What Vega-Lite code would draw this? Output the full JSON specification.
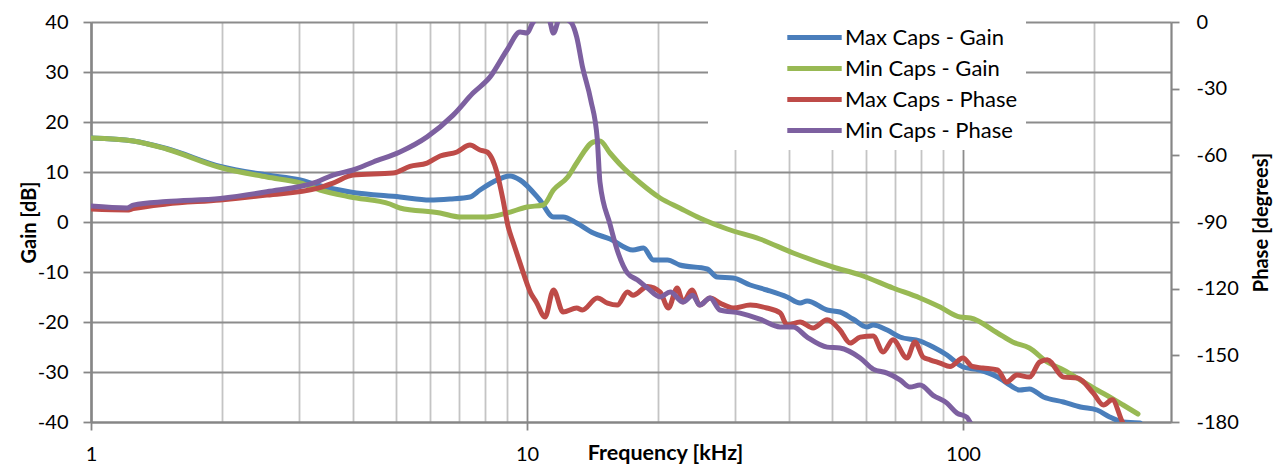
{
  "$schema": "https://vega.github.io/schema/vega-lite/v6.json",
  "width": 1080,
  "height": 400,
  "autosize": "none",
  "padding": {"left": 91, "top": 22, "right": 108, "bottom": 44},
  "background": "white",
  "config": {
    "view": {"stroke": null},
    "font": "Lato",
    "axis": {"labelColor": "black", "titleColor": "black", "labelFont": "Lato", "titleFont": "Lato"}
  },
  "data": {"values": [
    {"series": "Max Caps - Gain", "f": 1.0, "v": 16.8},
    {"series": "Max Caps - Gain", "f": 1.25, "v": 16.2},
    {"series": "Max Caps - Gain", "f": 1.49, "v": 14.7},
    {"series": "Max Caps - Gain", "f": 1.98, "v": 11.1},
    {"series": "Max Caps - Gain", "f": 2.53, "v": 9.4},
    {"series": "Max Caps - Gain", "f": 3.02, "v": 8.4},
    {"series": "Max Caps - Gain", "f": 3.30, "v": 7.4},
    {"series": "Max Caps - Gain", "f": 3.93, "v": 6.0},
    {"series": "Max Caps - Gain", "f": 5.11, "v": 5.0},
    {"series": "Max Caps - Gain", "f": 5.99, "v": 4.4},
    {"series": "Max Caps - Gain", "f": 6.66, "v": 4.6},
    {"series": "Max Caps - Gain", "f": 7.40, "v": 5.0},
    {"series": "Max Caps - Gain", "f": 7.80, "v": 6.4},
    {"series": "Max Caps - Gain", "f": 8.36, "v": 8.0},
    {"series": "Max Caps - Gain", "f": 9.14, "v": 9.2},
    {"series": "Max Caps - Gain", "f": 9.64, "v": 8.4},
    {"series": "Max Caps - Gain", "f": 10.7, "v": 4.4},
    {"series": "Max Caps - Gain", "f": 11.5, "v": 1.0},
    {"series": "Max Caps - Gain", "f": 12.1, "v": 1.0},
    {"series": "Max Caps - Gain", "f": 13.0, "v": -0.2},
    {"series": "Max Caps - Gain", "f": 14.2, "v": -2.2},
    {"series": "Max Caps - Gain", "f": 15.5, "v": -3.4},
    {"series": "Max Caps - Gain", "f": 17.5, "v": -5.6},
    {"series": "Max Caps - Gain", "f": 18.5, "v": -5.2},
    {"series": "Max Caps - Gain", "f": 19.5, "v": -7.6},
    {"series": "Max Caps - Gain", "f": 21.0, "v": -7.6},
    {"series": "Max Caps - Gain", "f": 22.4, "v": -8.6},
    {"series": "Max Caps - Gain", "f": 25.9, "v": -9.4},
    {"series": "Max Caps - Gain", "f": 27.3, "v": -11.0},
    {"series": "Max Caps - Gain", "f": 29.7, "v": -11.2},
    {"series": "Max Caps - Gain", "f": 32.5, "v": -12.6},
    {"series": "Max Caps - Gain", "f": 35.5, "v": -13.6},
    {"series": "Max Caps - Gain", "f": 39.5, "v": -15.0},
    {"series": "Max Caps - Gain", "f": 42.3, "v": -16.2},
    {"series": "Max Caps - Gain", "f": 43.9, "v": -15.8},
    {"series": "Max Caps - Gain", "f": 48.8, "v": -17.6},
    {"series": "Max Caps - Gain", "f": 52.2, "v": -18.0},
    {"series": "Max Caps - Gain", "f": 55.9, "v": -19.4},
    {"series": "Max Caps - Gain", "f": 60.2, "v": -21.0},
    {"series": "Max Caps - Gain", "f": 62.2, "v": -20.6},
    {"series": "Max Caps - Gain", "f": 67.0, "v": -21.6},
    {"series": "Max Caps - Gain", "f": 71.7, "v": -23.0},
    {"series": "Max Caps - Gain", "f": 79.7, "v": -23.8},
    {"series": "Max Caps - Gain", "f": 85.4, "v": -25.0},
    {"series": "Max Caps - Gain", "f": 91.9, "v": -26.6},
    {"series": "Max Caps - Gain", "f": 100, "v": -29.0},
    {"series": "Max Caps - Gain", "f": 109, "v": -29.6},
    {"series": "Max Caps - Gain", "f": 120, "v": -31.0},
    {"series": "Max Caps - Gain", "f": 126, "v": -32.2},
    {"series": "Max Caps - Gain", "f": 135, "v": -33.6},
    {"series": "Max Caps - Gain", "f": 142, "v": -33.4},
    {"series": "Max Caps - Gain", "f": 153, "v": -35.0},
    {"series": "Max Caps - Gain", "f": 170, "v": -36.0},
    {"series": "Max Caps - Gain", "f": 186, "v": -37.0},
    {"series": "Max Caps - Gain", "f": 203, "v": -37.6},
    {"series": "Max Caps - Gain", "f": 217, "v": -39.0},
    {"series": "Max Caps - Gain", "f": 233, "v": -40.0},
    {"series": "Max Caps - Gain", "f": 255, "v": -40.2},

    {"series": "Min Caps - Gain", "f": 1.0, "v": 16.8},
    {"series": "Min Caps - Gain", "f": 1.25, "v": 16.2},
    {"series": "Min Caps - Gain", "f": 1.49, "v": 14.6},
    {"series": "Min Caps - Gain", "f": 1.98, "v": 10.9},
    {"series": "Min Caps - Gain", "f": 2.53, "v": 9.0},
    {"series": "Min Caps - Gain", "f": 3.02, "v": 7.8},
    {"series": "Min Caps - Gain", "f": 3.35, "v": 6.4},
    {"series": "Min Caps - Gain", "f": 3.93, "v": 5.0},
    {"series": "Min Caps - Gain", "f": 4.85, "v": 3.6},
    {"series": "Min Caps - Gain", "f": 5.11, "v": 2.8},
    {"series": "Min Caps - Gain", "f": 6.32, "v": 1.8},
    {"series": "Min Caps - Gain", "f": 7.02, "v": 1.0},
    {"series": "Min Caps - Gain", "f": 8.10, "v": 1.0},
    {"series": "Min Caps - Gain", "f": 9.00, "v": 1.8},
    {"series": "Min Caps - Gain", "f": 10.0, "v": 3.0},
    {"series": "Min Caps - Gain", "f": 10.9, "v": 3.4},
    {"series": "Min Caps - Gain", "f": 11.5, "v": 6.4},
    {"series": "Min Caps - Gain", "f": 12.4, "v": 9.0},
    {"series": "Min Caps - Gain", "f": 13.0, "v": 11.8},
    {"series": "Min Caps - Gain", "f": 14.2, "v": 16.0},
    {"series": "Min Caps - Gain", "f": 14.7, "v": 16.2},
    {"series": "Min Caps - Gain", "f": 15.5, "v": 13.8},
    {"series": "Min Caps - Gain", "f": 16.4, "v": 11.4},
    {"series": "Min Caps - Gain", "f": 18.2, "v": 7.8},
    {"series": "Min Caps - Gain", "f": 20.2, "v": 4.8},
    {"series": "Min Caps - Gain", "f": 22.4, "v": 2.8},
    {"series": "Min Caps - Gain", "f": 24.9, "v": 0.8},
    {"series": "Min Caps - Gain", "f": 28.8, "v": -1.4},
    {"series": "Min Caps - Gain", "f": 34.2, "v": -3.4},
    {"series": "Min Caps - Gain", "f": 40.8, "v": -6.2},
    {"series": "Min Caps - Gain", "f": 50.3, "v": -9.0},
    {"series": "Min Caps - Gain", "f": 58.1, "v": -10.6},
    {"series": "Min Caps - Gain", "f": 69.1, "v": -13.2},
    {"series": "Min Caps - Gain", "f": 79.7, "v": -15.2},
    {"series": "Min Caps - Gain", "f": 88.6, "v": -17.0},
    {"series": "Min Caps - Gain", "f": 98.4, "v": -19.0},
    {"series": "Min Caps - Gain", "f": 104, "v": -19.2},
    {"series": "Min Caps - Gain", "f": 120, "v": -22.2},
    {"series": "Min Caps - Gain", "f": 130, "v": -24.0},
    {"series": "Min Caps - Gain", "f": 142, "v": -25.2},
    {"series": "Min Caps - Gain", "f": 156, "v": -28.0},
    {"series": "Min Caps - Gain", "f": 170, "v": -29.6},
    {"series": "Min Caps - Gain", "f": 186, "v": -31.6},
    {"series": "Min Caps - Gain", "f": 203, "v": -33.6},
    {"series": "Min Caps - Gain", "f": 217, "v": -35.0},
    {"series": "Min Caps - Gain", "f": 233, "v": -36.6},
    {"series": "Min Caps - Gain", "f": 252, "v": -38.4},

    {"series": "Max Caps - Phase", "f": 1.0, "v": -84.2},
    {"series": "Max Caps - Phase", "f": 1.21, "v": -84.6},
    {"series": "Max Caps - Phase", "f": 1.25, "v": -84.0},
    {"series": "Max Caps - Phase", "f": 1.49, "v": -81.9},
    {"series": "Max Caps - Phase", "f": 1.98, "v": -80.1},
    {"series": "Max Caps - Phase", "f": 2.53, "v": -77.9},
    {"series": "Max Caps - Phase", "f": 3.30, "v": -74.9},
    {"series": "Max Caps - Phase", "f": 3.59, "v": -72.5},
    {"series": "Max Caps - Phase", "f": 3.99, "v": -68.9},
    {"series": "Max Caps - Phase", "f": 4.93, "v": -68.0},
    {"series": "Max Caps - Phase", "f": 5.39, "v": -65.0},
    {"series": "Max Caps - Phase", "f": 5.90, "v": -63.5},
    {"series": "Max Caps - Phase", "f": 6.32, "v": -60.3},
    {"series": "Max Caps - Phase", "f": 6.91, "v": -58.5},
    {"series": "Max Caps - Phase", "f": 7.40, "v": -55.4},
    {"series": "Max Caps - Phase", "f": 7.80, "v": -57.6},
    {"series": "Max Caps - Phase", "f": 8.10, "v": -58.5},
    {"series": "Max Caps - Phase", "f": 8.54, "v": -68.0},
    {"series": "Max Caps - Phase", "f": 8.81, "v": -80.0},
    {"series": "Max Caps - Phase", "f": 9.05, "v": -92.0},
    {"series": "Max Caps - Phase", "f": 9.29, "v": -99.0},
    {"series": "Max Caps - Phase", "f": 9.64, "v": -108.5},
    {"series": "Max Caps - Phase", "f": 10.2, "v": -122.0},
    {"series": "Max Caps - Phase", "f": 10.5, "v": -126.0},
    {"series": "Max Caps - Phase", "f": 11.0, "v": -132.8},
    {"series": "Max Caps - Phase", "f": 11.5, "v": -120.6},
    {"series": "Max Caps - Phase", "f": 12.1, "v": -130.5},
    {"series": "Max Caps - Phase", "f": 13.0, "v": -128.7},
    {"series": "Max Caps - Phase", "f": 13.4, "v": -129.6},
    {"series": "Max Caps - Phase", "f": 14.5, "v": -124.2},
    {"series": "Max Caps - Phase", "f": 15.3, "v": -126.5},
    {"series": "Max Caps - Phase", "f": 16.1, "v": -127.4},
    {"series": "Max Caps - Phase", "f": 17.0, "v": -121.5},
    {"series": "Max Caps - Phase", "f": 17.5, "v": -123.0},
    {"series": "Max Caps - Phase", "f": 18.9, "v": -119.0},
    {"series": "Max Caps - Phase", "f": 20.2, "v": -121.5},
    {"series": "Max Caps - Phase", "f": 21.1, "v": -128.7},
    {"series": "Max Caps - Phase", "f": 22.1, "v": -119.7},
    {"series": "Max Caps - Phase", "f": 22.8, "v": -126.0},
    {"series": "Max Caps - Phase", "f": 23.9, "v": -120.6},
    {"series": "Max Caps - Phase", "f": 24.9, "v": -127.4},
    {"series": "Max Caps - Phase", "f": 26.3, "v": -124.2},
    {"series": "Max Caps - Phase", "f": 27.7, "v": -126.5},
    {"series": "Max Caps - Phase", "f": 29.7, "v": -128.7},
    {"series": "Max Caps - Phase", "f": 32.5, "v": -127.4},
    {"series": "Max Caps - Phase", "f": 35.5, "v": -128.7},
    {"series": "Max Caps - Phase", "f": 38.1, "v": -131.0},
    {"series": "Max Caps - Phase", "f": 39.5, "v": -136.4},
    {"series": "Max Caps - Phase", "f": 42.3, "v": -135.0},
    {"series": "Max Caps - Phase", "f": 45.3, "v": -137.7},
    {"series": "Max Caps - Phase", "f": 48.8, "v": -134.0},
    {"series": "Max Caps - Phase", "f": 52.2, "v": -138.6},
    {"series": "Max Caps - Phase", "f": 55.1, "v": -144.5},
    {"series": "Max Caps - Phase", "f": 58.1, "v": -141.8},
    {"series": "Max Caps - Phase", "f": 62.2, "v": -141.3},
    {"series": "Max Caps - Phase", "f": 65.6, "v": -148.5},
    {"series": "Max Caps - Phase", "f": 69.1, "v": -143.0},
    {"series": "Max Caps - Phase", "f": 74.4, "v": -151.2},
    {"series": "Max Caps - Phase", "f": 77.6, "v": -144.0},
    {"series": "Max Caps - Phase", "f": 81.0, "v": -150.8},
    {"series": "Max Caps - Phase", "f": 84.0, "v": -152.0},
    {"series": "Max Caps - Phase", "f": 88.6, "v": -153.5},
    {"series": "Max Caps - Phase", "f": 93.4, "v": -155.0},
    {"series": "Max Caps - Phase", "f": 100, "v": -151.2},
    {"series": "Max Caps - Phase", "f": 105, "v": -155.0},
    {"series": "Max Caps - Phase", "f": 111, "v": -155.7},
    {"series": "Max Caps - Phase", "f": 120, "v": -156.6},
    {"series": "Max Caps - Phase", "f": 126, "v": -162.0},
    {"series": "Max Caps - Phase", "f": 133, "v": -158.9},
    {"series": "Max Caps - Phase", "f": 142, "v": -159.8},
    {"series": "Max Caps - Phase", "f": 150, "v": -153.0},
    {"series": "Max Caps - Phase", "f": 156, "v": -152.0},
    {"series": "Max Caps - Phase", "f": 170, "v": -159.8},
    {"series": "Max Caps - Phase", "f": 183, "v": -160.2},
    {"series": "Max Caps - Phase", "f": 199, "v": -167.0},
    {"series": "Max Caps - Phase", "f": 210, "v": -172.4},
    {"series": "Max Caps - Phase", "f": 220, "v": -170.0},
    {"series": "Max Caps - Phase", "f": 232, "v": -180.0},
    {"series": "Max Caps - Phase", "f": 238, "v": -184.0},

    {"series": "Min Caps - Phase", "f": 1.0, "v": -82.8},
    {"series": "Min Caps - Phase", "f": 1.21, "v": -83.7},
    {"series": "Min Caps - Phase", "f": 1.25, "v": -82.4},
    {"series": "Min Caps - Phase", "f": 1.49, "v": -80.8},
    {"series": "Min Caps - Phase", "f": 1.98, "v": -79.4},
    {"series": "Min Caps - Phase", "f": 2.53, "v": -76.4},
    {"series": "Min Caps - Phase", "f": 3.30, "v": -71.9},
    {"series": "Min Caps - Phase", "f": 3.59, "v": -68.9},
    {"series": "Min Caps - Phase", "f": 3.99, "v": -66.6},
    {"series": "Min Caps - Phase", "f": 4.44, "v": -63.0},
    {"series": "Min Caps - Phase", "f": 5.11, "v": -58.5},
    {"series": "Min Caps - Phase", "f": 5.90, "v": -51.7},
    {"series": "Min Caps - Phase", "f": 6.77, "v": -41.9},
    {"series": "Min Caps - Phase", "f": 7.52, "v": -32.0},
    {"series": "Min Caps - Phase", "f": 8.23, "v": -24.7},
    {"series": "Min Caps - Phase", "f": 9.00, "v": -12.6},
    {"series": "Min Caps - Phase", "f": 9.64, "v": -4.5},
    {"series": "Min Caps - Phase", "f": 10.0, "v": -5.0},
    {"series": "Min Caps - Phase", "f": 10.3, "v": -0.5},
    {"series": "Min Caps - Phase", "f": 10.7, "v": 3.0},
    {"series": "Min Caps - Phase", "f": 11.2, "v": 2.0},
    {"series": "Min Caps - Phase", "f": 11.5, "v": -5.0},
    {"series": "Min Caps - Phase", "f": 11.9, "v": 2.0},
    {"series": "Min Caps - Phase", "f": 12.6, "v": 0.0},
    {"series": "Min Caps - Phase", "f": 13.0, "v": -6.7},
    {"series": "Min Caps - Phase", "f": 13.4, "v": -20.0},
    {"series": "Min Caps - Phase", "f": 14.0, "v": -35.0},
    {"series": "Min Caps - Phase", "f": 14.5, "v": -53.0},
    {"series": "Min Caps - Phase", "f": 14.7, "v": -72.0},
    {"series": "Min Caps - Phase", "f": 15.5, "v": -91.0},
    {"series": "Min Caps - Phase", "f": 16.1, "v": -102.6},
    {"series": "Min Caps - Phase", "f": 17.0, "v": -113.0},
    {"series": "Min Caps - Phase", "f": 17.9, "v": -116.0},
    {"series": "Min Caps - Phase", "f": 18.9, "v": -119.7},
    {"series": "Min Caps - Phase", "f": 20.2, "v": -123.7},
    {"series": "Min Caps - Phase", "f": 21.3, "v": -121.5},
    {"series": "Min Caps - Phase", "f": 22.8, "v": -126.0},
    {"series": "Min Caps - Phase", "f": 24.0, "v": -123.0},
    {"series": "Min Caps - Phase", "f": 24.9, "v": -127.4},
    {"series": "Min Caps - Phase", "f": 26.3, "v": -124.2},
    {"series": "Min Caps - Phase", "f": 27.7, "v": -129.6},
    {"series": "Min Caps - Phase", "f": 30.8, "v": -131.0},
    {"series": "Min Caps - Phase", "f": 34.2, "v": -133.7},
    {"series": "Min Caps - Phase", "f": 38.1, "v": -137.2},
    {"series": "Min Caps - Phase", "f": 40.8, "v": -137.2},
    {"series": "Min Caps - Phase", "f": 43.9, "v": -141.8},
    {"series": "Min Caps - Phase", "f": 48.8, "v": -146.3},
    {"series": "Min Caps - Phase", "f": 52.2, "v": -146.7},
    {"series": "Min Caps - Phase", "f": 58.1, "v": -151.2},
    {"series": "Min Caps - Phase", "f": 62.2, "v": -156.2},
    {"series": "Min Caps - Phase", "f": 67.0, "v": -158.0},
    {"series": "Min Caps - Phase", "f": 71.7, "v": -161.0},
    {"series": "Min Caps - Phase", "f": 75.6, "v": -164.3},
    {"series": "Min Caps - Phase", "f": 79.7, "v": -163.4},
    {"series": "Min Caps - Phase", "f": 85.4, "v": -168.0},
    {"series": "Min Caps - Phase", "f": 91.9, "v": -171.5},
    {"series": "Min Caps - Phase", "f": 96.9, "v": -176.0},
    {"series": "Min Caps - Phase", "f": 102, "v": -177.8},
    {"series": "Min Caps - Phase", "f": 105, "v": -182.0}
  ]},
  "encoding": {
    "x": {
      "field": "f", "type": "quantitative",
      "scale": {"type": "log", "domain": [1, 300], "nice": false},
      "axis": {
        "values": [1,2,3,4,5,6,7,8,9,10,20,30,40,50,60,70,80,90,100,200,300],
        "labelExpr": "(datum.value == 1 || datum.value == 10 || datum.value == 100) ? datum.label : ''",
        "labelFlush": false,
        "labelOverlap": false,
        "labelFontSize": 20,
        "labelBaseline": "alphabetic",
        "labelPadding": 30,
        "grid": true,
        "gridColor": {"condition": {"test": "datum.value == 1 || datum.value == 10 || datum.value == 100", "value": "#8c8c8c"}, "value": "#c4c4c4"},
        "gridWidth": 1.8,
        "ticks": true,
        "tickSize": 8,
        "tickWidth": 1.8,
        "tickColor": {"condition": {"test": "datum.value == 1 || datum.value == 10 || datum.value == 100", "value": "#868686"}, "value": "transparent"},
        "domainColor": "#868686",
        "domainWidth": 2,
        "title": "Frequency [kHz]",
        "titleFontSize": 21.5,
        "titleFontWeight": "bold",
        "titleX": 574,
        "titleY": 37,
        "titleAlign": "center",
        "titleBaseline": "alphabetic"
      }
    },
    "color": {
      "field": "series", "type": "nominal",
      "scale": {
        "domain": ["Max Caps - Gain", "Min Caps - Gain", "Max Caps - Phase", "Min Caps - Phase"],
        "range": ["#4a7ebb", "#98b954", "#be4b48", "#7d60a0"]
      },
      "legend": {
        "orient": "none",
        "legendX": 617,
        "legendY": -12,
        "title": null,
        "symbolType": "M-1.6,0H1.6",
        "symbolStrokeWidth": 5,
        "symbolSize": 1156,
        "labelFontSize": 22,
        "labelFont": "Lato",
        "labelColor": "black",
        "labelLimit": 400,
        "labelOffset": 11,
        "symbolOffset": 79,
        "fillColor": "white",
        "padding": 8,
        "rowPadding": 0
      }
    }
  },
  "layer": [
    {
      "transform": [{"filter": "indexof(datum.series, 'Gain') >= 0"}],
      "mark": {"type": "line", "strokeWidth": 5, "strokeCap": "round", "strokeJoin": "round", "clip": true, "interpolate": "monotone"},
      "encoding": {
        "y": {
          "field": "v", "type": "quantitative",
          "scale": {"domain": [-40, 40], "nice": false},
          "axis": {
            "orient": "left",
            "values": [-40,-30,-20,-10,0,10,20,30,40],
            "labelExpr": "'' + datum.value",
            "title": "Gain [dB]",
            "titleFontSize": 20,
            "titleFontWeight": "bold",
            "titleX": -56,
            "titleY": 200,
            "titleAngle": 270,
            "titleAlign": "center",
            "titleBaseline": "alphabetic",
            "labelFontSize": 20,
            "labelPadding": 15,
            "tickSize": 8,
            "tickWidth": 1.8,
            "tickColor": "#868686",
            "domainColor": "#868686",
            "domainWidth": 2.5,
            "grid": true,
            "gridColor": "#8c8c8c",
            "gridWidth": 1.8
          }
        }
      }
    },
    {
      "transform": [{"filter": "indexof(datum.series, 'Phase') >= 0"}],
      "mark": {"type": "line", "strokeWidth": 5, "strokeCap": "round", "strokeJoin": "round", "clip": true, "interpolate": "monotone"},
      "encoding": {
        "y": {
          "field": "v", "type": "quantitative",
          "scale": {"domain": [-180, 0], "nice": false},
          "axis": {
            "orient": "right",
            "values": [-180,-150,-120,-90,-60,-30,0],
            "labelExpr": "'' + datum.value",
            "title": "Phase [degrees]",
            "titleFontSize": 20,
            "titleFontWeight": "bold",
            "titleX": 96,
            "titleY": 200,
            "titleAngle": 270,
            "titleAlign": "center",
            "titleBaseline": "alphabetic",
            "labelFontSize": 20,
            "labelPadding": 17,
            "tickSize": 8,
            "tickWidth": 1.8,
            "tickColor": "#868686",
            "domainColor": "#868686",
            "domainWidth": 2,
            "grid": false
          }
        }
      }
    }
  ],
  "resolve": {"scale": {"y": "independent"}}
}
